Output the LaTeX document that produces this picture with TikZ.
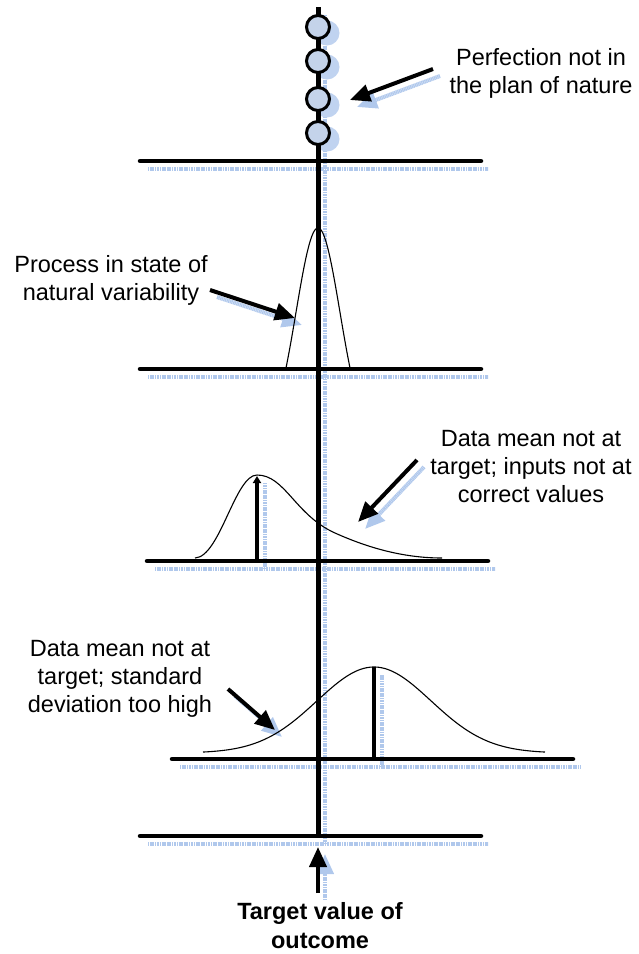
\documentclass[tikz,border=0pt]{standalone}
\usepackage{fontspec}
\setmainfont{Liberation Sans}
\usetikzlibrary{arrows.meta,positioning}
\definecolor{beadblue}{RGB}{196,211,234}
\definecolor{ghostblue}{RGB}{176,200,236}
\tikzset{
  note/.style={font=\fontsize{23.5}{28}\selectfont,align=center,inner sep=0pt,anchor=north},
  scaleline/.style={line width=4.5pt,line cap=round},
  ghostline/.style={draw=ghostblue,line width=4.5pt,dash pattern=on 1.2pt off 0.5pt},
  pointer/.style={line width=4pt,-{Triangle[length=20pt,width=17pt]}},
  ghostpointer/.style={ghostline,line width=4pt,-{Triangle[length=20pt,width=17pt]}},
  curve/.style={line width=1.1pt},
  bead/.style={circle,draw,line width=3pt,fill=beadblue,minimum size=23pt,inner sep=0pt},
  ghostbead/.style={circle,fill=ghostblue!80,minimum size=25pt,inner sep=0pt}
}
\begin{document}
\begin{tikzpicture}[x=1pt,y=-1pt]
\useasboundingbox (0,0) rectangle (639,954);
% shadows
\draw[ghostline] (325,15) -- (325,844);
\foreach \y in {27,61,99,133} \node[ghostbead] at (327,\y+6) {};
\draw[ghostline] (148,169) -- (488,169);
\draw[ghostline] (148,377) -- (488,377);
\draw[ghostline] (155,569) -- (495,569);
\draw[ghostline] (180,767) -- (580,767);
\draw[ghostline] (148,844) -- (488,844);
\draw[ghostline] (265,569) -- (265,483);
\draw[ghostline] (382,767) -- (382,675);
\draw[ghostpointer] (440,76) -- (357,107);
\draw[ghostpointer] (217,297) -- (302,325);
\draw[ghostpointer] (424,467) -- (365,529);
\draw[ghostpointer] (235,696) -- (282,737);
\draw[ghostpointer] (325,900) -- (325,854);
% axis and levels
\coordinate (top) at (318,7);
\coordinate (bottom) at (318,836);
\draw[line width=5pt] (top) -- (bottom);
\node[bead] (bead1) at (318,27) {};
\node[bead] (bead2) at (318,61) {};
\node[bead] (bead3) at (318,99) {};
\node[bead] (bead4) at (318,133) {};
\draw[scaleline] (140,161) -- (481,161);
\draw[scaleline] (140,369) -- (481,369);
\draw[scaleline] (147,561) -- (488,561);
\draw[scaleline] (172,759) -- (573,759);
\draw[scaleline] (140,836) -- (481,836);
% curves
\draw[curve] plot[domain=286:350,samples=80] (\x,{368-140*(exp(-((\x-318)/22)^2/2)-0.347)/0.653});
\draw[curve] (195,558) .. controls (220,557) and (235,475) .. (257,475)
  .. controls (285,475) and (295,515) .. (335,533)
  .. controls (375,551) and (410,558) .. (442,558);
\draw[curve] plot[domain=203:545,samples=120] (\x,{753-86*exp(-((\x-374)/57)^2/2)});
\draw[line width=4pt,-{Triangle[length=7pt,width=8pt]}] (257,561) -- (257,476);
\draw[line width=4pt] (374,759) -- (374,667);
% notes
\node[note] (perfection) at (541,48) {Perfection not in\\the plan of nature};
\node[note] (natural) at (111,255) {Process in state of\\natural variability};
\node[note] (inputs) at (531,430) {Data mean not at\\target; inputs not at\\correct values};
\node[note] (spread) at (120,640) {Data mean not at\\target; standard\\deviation too high};
\node[note,font=\fontsize{23.5}{29}\selectfont\bfseries] (target) at (320,902) {Target value of\\outcome};
% pointers
\coordinate (perfA) at (433,69);
\coordinate (perfB) at (350,100);
\coordinate (natA) at (210,290);
\coordinate (natB) at (295,318);
\coordinate (inA) at (417,460);
\coordinate (inB) at (358,522);
\coordinate (spA) at (228,689);
\coordinate (spB) at (275,730);
\coordinate (tgA) at (318,893);
\coordinate (tgB) at (318,847);
\draw[pointer] (perfA) -- (perfB);
\draw[pointer] (natA) -- (natB);
\draw[pointer] (inA) -- (inB);
\draw[pointer] (spA) -- (spB);
\draw[pointer] (tgA) -- (tgB);
\end{tikzpicture}
\end{document}
